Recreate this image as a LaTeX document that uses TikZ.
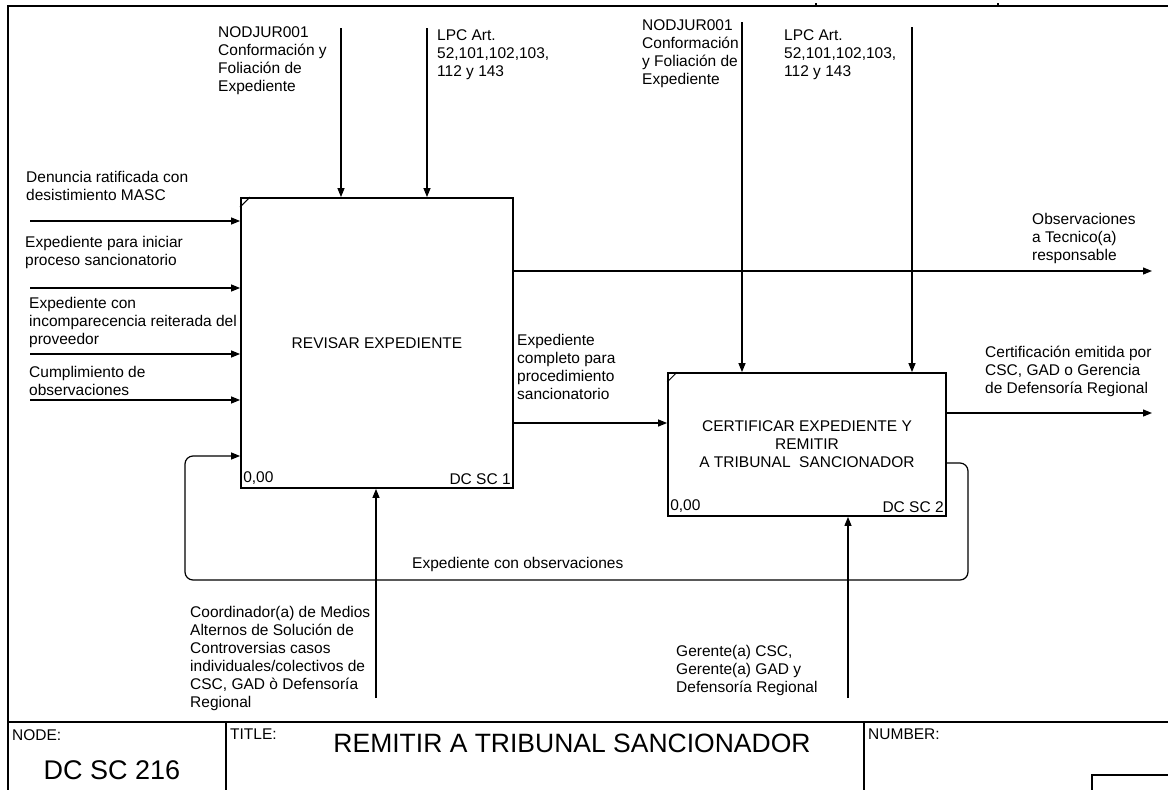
\documentclass[tikz,border=0pt]{standalone}
\usepackage{fontspec}
\setmainfont{Liberation Sans}
\usetikzlibrary{positioning,arrows.meta}

\begin{document}
\begin{tikzpicture}[x=1pt,y=-1pt,font=\fontsize{15.5}{18}\selectfont,
  act/.style={draw,line width=1.8pt,inner sep=0pt,align=center},
  lbl/.style={align=left,inner sep=0pt,anchor=north west},
  flow/.style={line width=1.2pt,-{Triangle[length=9pt,width=7pt]}},
  border/.style={line width=1.3pt}]
\useasboundingbox (0,0) rectangle (1168,790);

% marco y cajetin
\draw[border] (1168,6) -- (8,6) -- (8,790);
\draw[border] (816,3) -- (816,6) (998,3) -- (998,6);
\draw[border] (8,722) -- (1168,722);
\draw[border] (226,722) -- (226,790) (864,722) -- (864,790);
\draw[border] (1168,775) -- (1092,775) -- (1092,790);
\node[lbl] (node) at (12,729) {NODE:};
\node[font=\fontsize{27}{30}\selectfont] (nodenum) at (112,770) {DC SC 216};
\node[lbl] (title) at (230,729) {TITLE:};
\node[font=\fontsize{26.5}{30}\selectfont] (titletxt) at (572,743) {REMITIR A TRIBUNAL SANCIONADOR};
\node[lbl] (number) at (868,729) {NUMBER:};

% actividades
\node[act,minimum width=272pt,minimum height=290pt] (rev) at (377,343) {REVISAR EXPEDIENTE};
\node[act,minimum width=278pt,minimum height=143pt] (cert) at (807,444.5) {CERTIFICAR EXPEDIENTE Y\\REMITIR\\A TRIBUNAL\ \ SANCIONADOR};
\foreach \b/\k in {rev/1,cert/2} {
  \draw[line width=1pt] ([yshift=-10pt]\b.north west) -- ([xshift=10pt]\b.north west);
  \node[anchor=south west,inner sep=0pt] at ([shift={(3pt,4pt)}]\b.south west) {0,00};
  \node[anchor=south east,inner sep=0pt] at ([shift={(-3pt,4pt)}]\b.south east) {DC SC \k};
}

% controles
\node[lbl] (c1txt) at (218,26) {NODJUR001\\Conformación y\\Foliación de\\Expediente};
\node[lbl] (c2txt) at (437,29) {LPC Art.\\52,101,102,103,\\112 y 143};
\node[lbl] (c3txt) at (642,19) {NODJUR001\\Conformación\\y Foliación de\\Expediente};
\node[lbl] (c4txt) at (784,29) {LPC Art.\\52,101,102,103,\\112 y 143};
\coordinate (c1) at (341,28);
\coordinate (c2) at (427,28);
\coordinate (c3) at (742,22);
\coordinate (c4) at (912,27);
\foreach \c/\b in {c1/rev,c2/rev,c3/cert,c4/cert} \draw[flow] (\c) -- (\c |- \b.north);

% entradas
\node[lbl] (i1txt) at (26,171) {Denuncia ratificada con\\desistimiento MASC};
\node[lbl] (i2txt) at (25,236) {Expediente para iniciar\\proceso sancionatorio};
\node[lbl] (i3txt) at (29,297) {Expediente con\\incomparecencia reiterada del\\proveedor};
\node[lbl] (i4txt) at (29,366) {Cumplimiento de\\observaciones};
\coordinate (i1) at (30,221);
\coordinate (i2) at (30,288);
\coordinate (i3) at (30,354);
\coordinate (i4) at (30,400);
\foreach \i in {i1,i2,i3,i4} \draw[flow] (\i) -- (\i -| rev.west);

% salidas
\node[lbl] (o1txt) at (1032,213) {Observaciones\\a Tecnico(a)\\responsable};
\node[lbl] (o2txt) at (985,346) {Certificación emitida por\\CSC, GAD o Gerencia\\de Defensoría Regional};
\node[lbl] (midtxt) at (517,334) {Expediente\\completo para\\procedimiento\\sancionatorio};
\coordinate (o1) at (1152,271);
\coordinate (o2) at (1152,413);
\draw[flow] (o1 -| rev.east) -- (o1);
\draw[flow] (o2 -| cert.east) -- (o2);
\draw[flow] (rev.east |- 0,423) -- (cert.west |- 0,423);

% retroalimentacion
\coordinate (fbR) at (968,580);
\coordinate (fbL) at (185,580);
\draw[flow,rounded corners=8pt] (cert.east |- 0,463) -| (fbR) -- (fbL) |- (rev.west |- 0,456);
\node[lbl] (fbtxt) at (412,557) {Expediente con observaciones};

% mecanismos
\node[lbl] (m1txt) at (190,606) {Coordinador(a) de Medios\\Alternos de Solución de\\Controversias casos\\individuales/colectivos de\\CSC, GAD ò Defensoría\\Regional};
\node[lbl] (m2txt) at (676,645) {Gerente(a) CSC,\\Gerente(a) GAD y\\Defensoría Regional};
\coordinate (m1) at (376,698);
\coordinate (m2) at (848,698);
\draw[flow] (m1) -- (m1 |- rev.south);
\draw[flow] (m2) -- (m2 |- cert.south);
\end{tikzpicture}
\end{document}
